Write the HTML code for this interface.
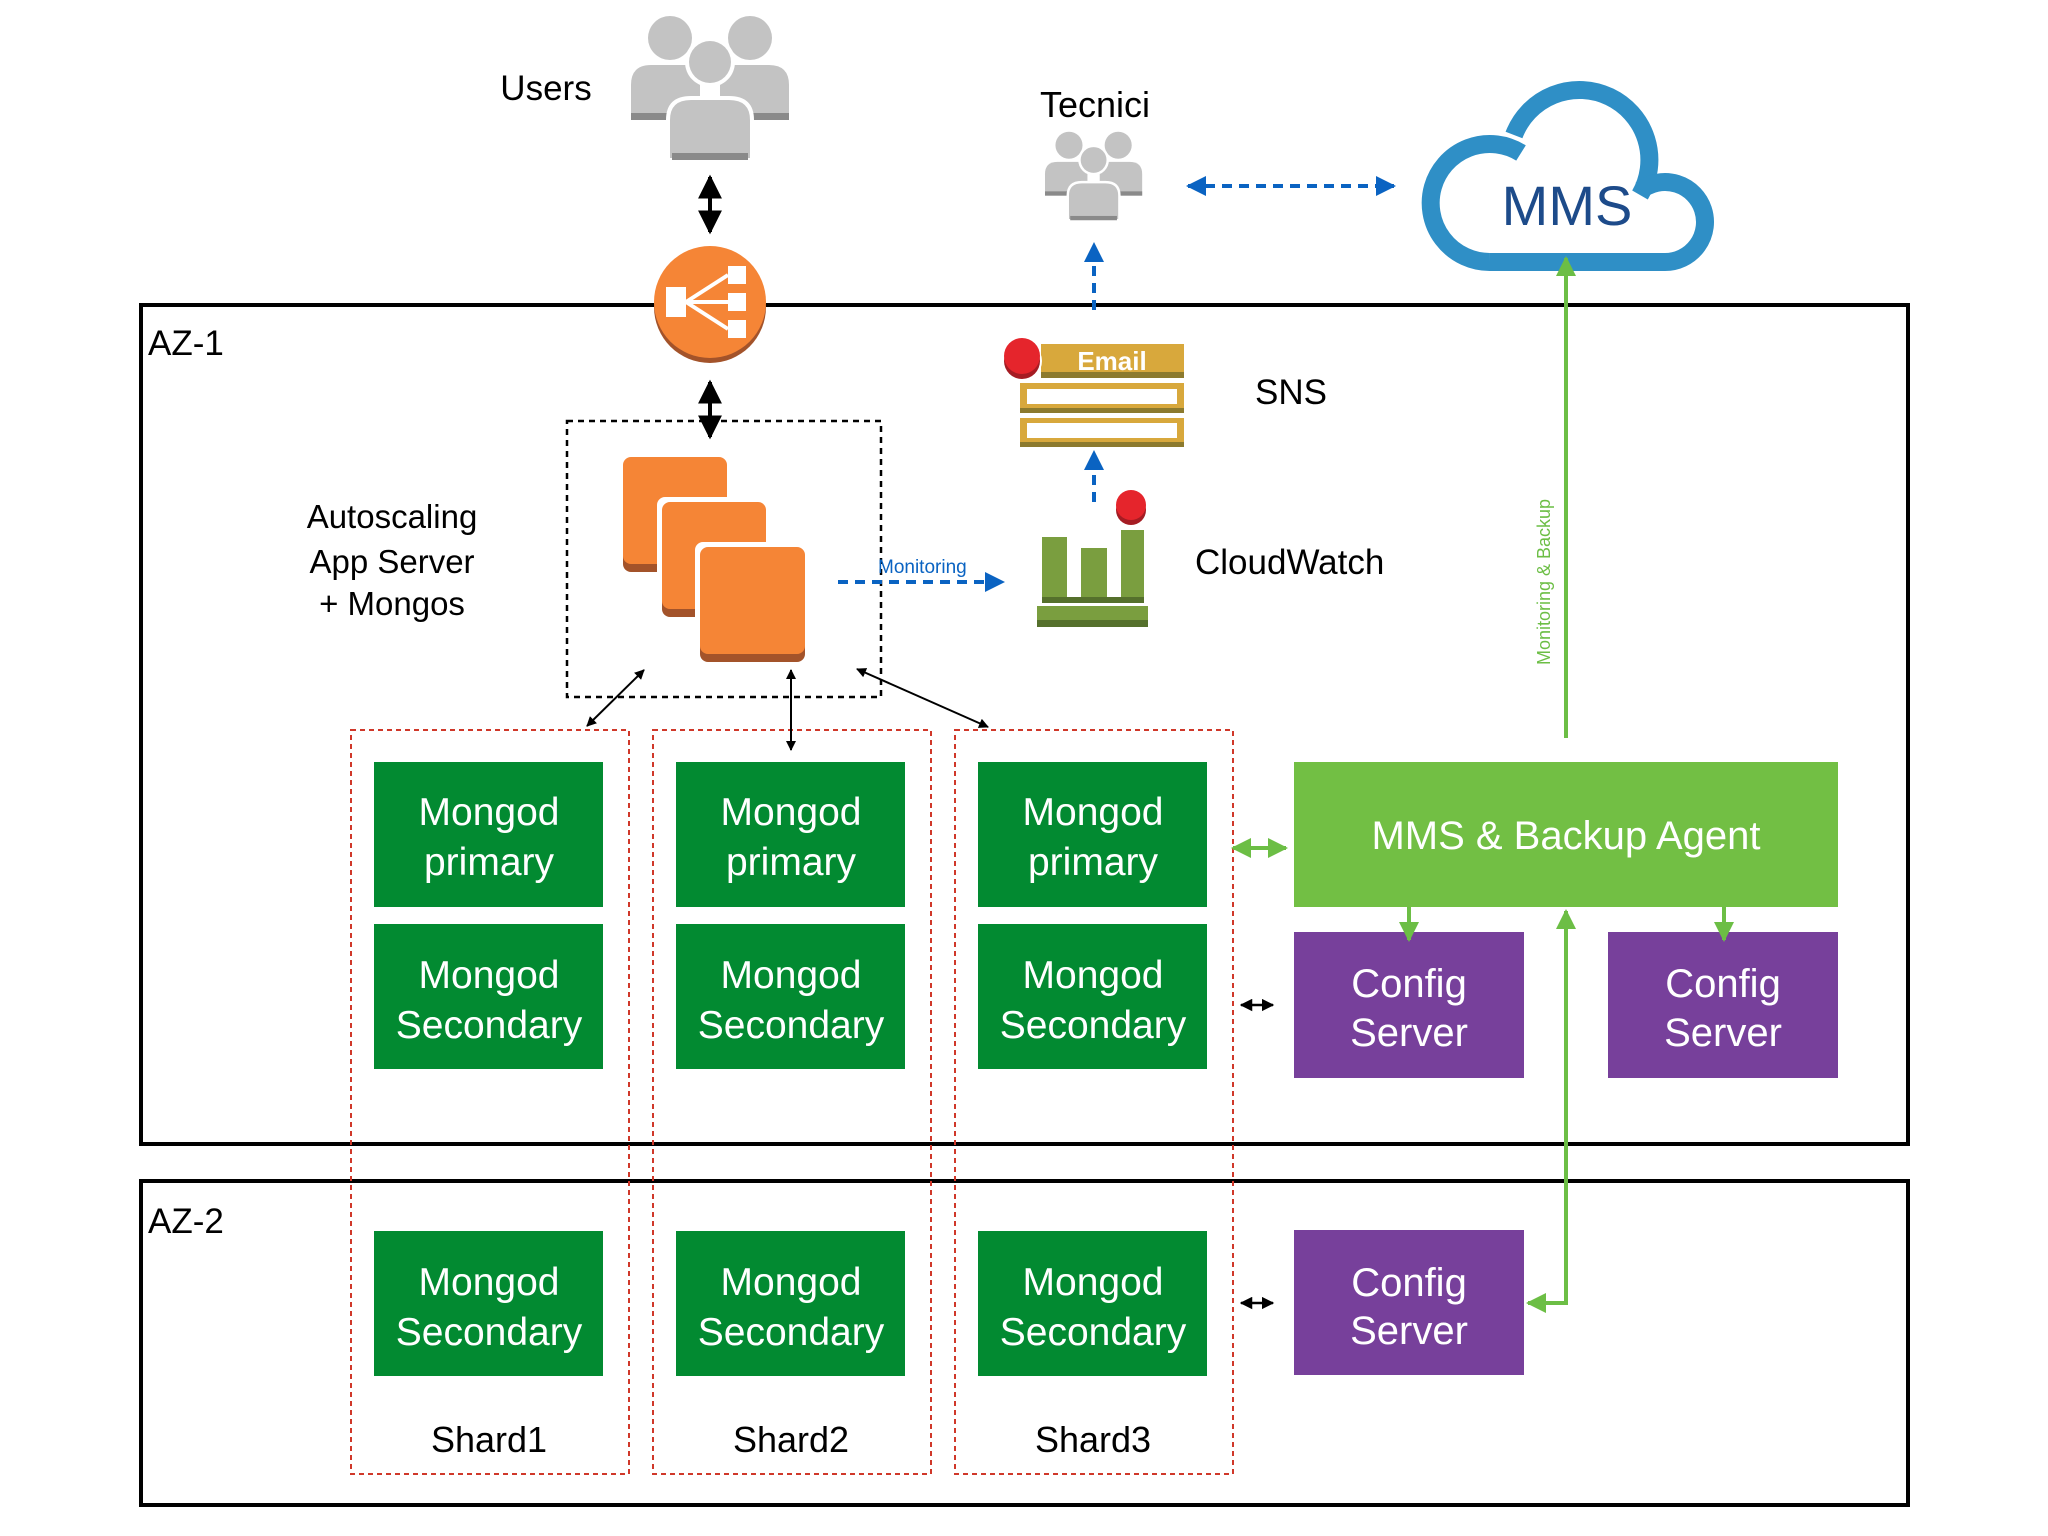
<!DOCTYPE html>
<html><head><meta charset="utf-8"><style>
html,body{margin:0;padding:0;background:#fff;}
svg{display:block;font-family:"Liberation Sans",sans-serif;}
</style></head><body>
<svg width="2048" height="1536" viewBox="0 0 2048 1536" xmlns="http://www.w3.org/2000/svg">
<defs>
<marker id="ab" viewBox="0 0 10 10" refX="9" refY="5" markerWidth="6" markerHeight="6" orient="auto-start-reverse"><path d="M0,0 L10,5 L0,10 z" fill="#000"/></marker>
<marker id="abs" viewBox="0 0 10 10" refX="9" refY="5" markerWidth="5" markerHeight="5" orient="auto-start-reverse"><path d="M0,0 L10,5 L0,10 z" fill="#000"/></marker>
<marker id="abl" viewBox="0 0 10 10" refX="9" refY="5" markerWidth="5" markerHeight="5" orient="auto-start-reverse"><path d="M0,0 L10,5 L0,10 z" fill="#0a63c2"/></marker>
<marker id="ag" viewBox="0 0 10 10" refX="9" refY="5" markerWidth="5" markerHeight="5" orient="auto-start-reverse"><path d="M0,0 L10,5 L0,10 z" fill="#6cbe45"/></marker>
<g id="ppl">
 <circle cx="39" cy="28" r="22" fill="#c3c3c3"/><circle cx="119" cy="28" r="22" fill="#c3c3c3"/>
 <path d="M0,110 V75 Q0,55 20,55 H69 V110 Z" fill="#c3c3c3"/>
 <path d="M158,110 V75 Q158,55 138,55 H89 V110 Z" fill="#c3c3c3"/>
 <rect x="0" y="103" width="158" height="7" fill="#8a8a8a"/>
 <circle cx="79" cy="52" r="25" fill="#fff"/><circle cx="79" cy="52" r="21" fill="#c3c3c3"/>
 <path d="M37,150 V110 Q37,88 60,88 H98 Q121,88 121,110 V150 Z" fill="#c3c3c3" stroke="#fff" stroke-width="4"/>
 <rect x="41" y="143" width="76" height="7" fill="#8a8a8a"/>
</g>
</defs>

<rect x="141" y="305" width="1767" height="839" fill="none" stroke="#000" stroke-width="4"/>
<rect x="141" y="1181" width="1767" height="324" fill="none" stroke="#000" stroke-width="4"/>
<text x="148" y="355" font-size="35">AZ-1</text>
<text x="148" y="1233" font-size="35">AZ-2</text>

<use href="#ppl" x="631" y="10"/>
<text x="546" y="100" font-size="35" text-anchor="middle">Users</text>
<use href="#ppl" transform="translate(1045,128) scale(0.615)"/>
<text x="1095" y="117" font-size="36" text-anchor="middle">Tecnici</text>

<line x1="710" y1="177" x2="710" y2="232" stroke="#000" stroke-width="4" marker-start="url(#ab)" marker-end="url(#ab)"/>
<line x1="710" y1="382" x2="710" y2="437" stroke="#000" stroke-width="4" marker-start="url(#ab)" marker-end="url(#ab)"/>

<circle cx="710" cy="307" r="56" fill="#a3532a"/>
<circle cx="710" cy="302" r="56" fill="#f58536"/>
<g fill="#fff" stroke="#fff">
<rect x="666" y="287" width="20" height="30" stroke="none"/>
<rect x="728" y="266" width="18" height="18" stroke="none"/>
<rect x="728" y="293" width="18" height="18" stroke="none"/>
<rect x="728" y="320" width="18" height="18" stroke="none"/>
<line x1="686" y1="302" x2="728" y2="275" stroke-width="4"/>
<line x1="686" y1="302" x2="728" y2="302" stroke-width="4"/>
<line x1="686" y1="302" x2="728" y2="329" stroke-width="4"/>
</g>

<rect x="567" y="421" width="314" height="276" fill="none" stroke="#000" stroke-width="2.5" stroke-dasharray="6,5"/>
<text x="392" y="528" font-size="33" text-anchor="middle">Autoscaling</text>
<text x="392" y="573" font-size="33" text-anchor="middle">App Server</text>
<text x="392" y="615" font-size="33" text-anchor="middle">+ Mongos</text>
<g>
<rect x="623" y="465" width="104" height="107" rx="8" fill="#a3532a"/>
<rect x="623" y="457" width="104" height="107" rx="8" fill="#f58536"/>
<rect x="657" y="497" width="114" height="125" rx="8" fill="#fff"/>
<rect x="662" y="510" width="104" height="107" rx="8" fill="#a3532a"/>
<rect x="662" y="502" width="104" height="107" rx="8" fill="#f58536"/>
<rect x="695" y="542" width="115" height="125" rx="8" fill="#fff"/>
<rect x="700" y="555" width="105" height="107" rx="8" fill="#a3532a"/>
<rect x="700" y="547" width="105" height="107" rx="8" fill="#f58536"/>
</g>
<line x1="838" y1="582" x2="1003" y2="582" stroke="#0a63c2" stroke-width="4" stroke-dasharray="10,7" marker-end="url(#abl)"/>
<text x="878" y="573" font-size="19" fill="#0a63c2">Monitoring</text>

<rect x="1042" y="537" width="25" height="66" fill="#7a9e3f"/>
<rect x="1081" y="548" width="26" height="55" fill="#7a9e3f"/>
<rect x="1121" y="530" width="23" height="73" fill="#7a9e3f"/>
<rect x="1042" y="597" width="102" height="6" fill="#55702c"/>
<rect x="1037" y="606" width="111" height="21" fill="#7a9e3f"/>
<rect x="1037" y="620" width="111" height="7" fill="#55702c"/>
<circle cx="1131" cy="510" r="15" fill="#a51c23"/>
<circle cx="1131" cy="505" r="15" fill="#e5252c"/>
<text x="1195" y="574" font-size="35">CloudWatch</text>
<line x1="1094" y1="502" x2="1094" y2="452" stroke="#0a63c2" stroke-width="4" stroke-dasharray="10,7" marker-end="url(#abl)"/>

<rect x="1041" y="344" width="143" height="34" fill="#d8a83c"/>
<rect x="1041" y="372" width="143" height="6" fill="#8c7a2e"/>
<rect x="1020" y="383" width="164" height="30" fill="#d8a83c"/>
<rect x="1027" y="389" width="150" height="15" fill="#fff"/>
<rect x="1020" y="408" width="164" height="5" fill="#8c7a2e"/>
<rect x="1020" y="418" width="164" height="29" fill="#d8a83c"/>
<rect x="1027" y="423" width="150" height="15" fill="#fff"/>
<rect x="1020" y="442" width="164" height="5" fill="#8c7a2e"/>
<circle cx="1022" cy="361" r="20" fill="#fff"/>
<circle cx="1022" cy="361" r="18" fill="#a51c23"/>
<circle cx="1022" cy="356" r="18" fill="#e5252c"/>
<text x="1112" y="370" font-size="26" font-weight="bold" fill="#fff" text-anchor="middle">Email</text>
<text x="1255" y="404" font-size="35">SNS</text>
<line x1="1094" y1="310" x2="1094" y2="244" stroke="#0a63c2" stroke-width="4" stroke-dasharray="10,7" marker-end="url(#abl)"/>

<line x1="1188" y1="186" x2="1394" y2="186" stroke="#0a63c2" stroke-width="4" stroke-dasharray="10,7" marker-start="url(#abl)" marker-end="url(#abl)"/>

<g fill="none" stroke="#2f8fc6" stroke-width="18" stroke-linecap="butt">
<path d="M1490,262 A59,59 0 1 1 1521,153"/>
<path d="M1514,135 A70,70 0 1 1 1640,195"/>
<path d="M1641,190 A40,40 0 1 1 1665,262 L1490,262"/>
</g>
<text x="1567" y="225" font-size="56" fill="#1d4b8a" text-anchor="middle">MMS</text>

<line x1="1566" y1="738" x2="1566" y2="258" stroke="#6cbe45" stroke-width="4" marker-end="url(#ag)"/>
<text transform="translate(1550,582) rotate(-90)" font-size="18" fill="#6cbe45" text-anchor="middle">Monitoring &amp; Backup</text>

<g fill="none" stroke="#d0382a" stroke-width="2" stroke-dasharray="5,4">
<rect x="351" y="730" width="278" height="744"/>
<rect x="653" y="730" width="278" height="744"/>
<rect x="955" y="730" width="278" height="744"/>
</g>
<text x="489" y="1452" font-size="36" text-anchor="middle">Shard1</text>
<text x="791" y="1452" font-size="36" text-anchor="middle">Shard2</text>
<text x="1093" y="1452" font-size="36" text-anchor="middle">Shard3</text>

<line x1="644" y1="670" x2="587" y2="726" stroke="#000" stroke-width="2" marker-start="url(#abs)" marker-end="url(#abs)"/>
<line x1="791" y1="670" x2="791" y2="750" stroke="#000" stroke-width="2" marker-start="url(#abs)" marker-end="url(#abs)"/>
<line x1="857" y1="669" x2="988" y2="727" stroke="#000" stroke-width="2" marker-start="url(#abs)" marker-end="url(#abs)"/>

<g fill="#028a31">
<rect x="374" y="762" width="229" height="145"/><rect x="676" y="762" width="229" height="145"/><rect x="978" y="762" width="229" height="145"/>
<rect x="374" y="924" width="229" height="145"/><rect x="676" y="924" width="229" height="145"/><rect x="978" y="924" width="229" height="145"/>
<rect x="374" y="1231" width="229" height="145"/><rect x="676" y="1231" width="229" height="145"/><rect x="978" y="1231" width="229" height="145"/>
</g>
<g fill="#fff" font-size="39" text-anchor="middle">
<text x="489" y="825">Mongod</text><text x="489" y="875">primary</text>
<text x="791" y="825">Mongod</text><text x="791" y="875">primary</text>
<text x="1093" y="825">Mongod</text><text x="1093" y="875">primary</text>
<text x="489" y="988">Mongod</text><text x="489" y="1038">Secondary</text>
<text x="791" y="988">Mongod</text><text x="791" y="1038">Secondary</text>
<text x="1093" y="988">Mongod</text><text x="1093" y="1038">Secondary</text>
<text x="489" y="1295">Mongod</text><text x="489" y="1345">Secondary</text>
<text x="791" y="1295">Mongod</text><text x="791" y="1345">Secondary</text>
<text x="1093" y="1295">Mongod</text><text x="1093" y="1345">Secondary</text>
</g>

<rect x="1294" y="762" width="544" height="145" fill="#72bf44"/>
<text x="1566" y="849" font-size="40" fill="#fff" text-anchor="middle">MMS &amp; Backup Agent</text>
<line x1="1233" y1="848" x2="1286" y2="848" stroke="#6cbe45" stroke-width="4" marker-start="url(#ag)" marker-end="url(#ag)"/>
<line x1="1241" y1="1005" x2="1273" y2="1005" stroke="#000" stroke-width="2.5" marker-start="url(#abs)" marker-end="url(#abs)"/>
<line x1="1241" y1="1303" x2="1273" y2="1303" stroke="#000" stroke-width="2.5" marker-start="url(#abs)" marker-end="url(#abs)"/>

<g fill="#77409b">
<rect x="1294" y="932" width="230" height="146"/>
<rect x="1608" y="932" width="230" height="146"/>
<rect x="1294" y="1230" width="230" height="145"/>
</g>
<g fill="#fff" font-size="40" text-anchor="middle">
<text x="1409" y="997">Config</text><text x="1409" y="1046">Server</text>
<text x="1723" y="997">Config</text><text x="1723" y="1046">Server</text>
<text x="1409" y="1296">Config</text><text x="1409" y="1344">Server</text>
</g>
<line x1="1409" y1="907" x2="1409" y2="940" stroke="#6cbe45" stroke-width="4" marker-end="url(#ag)"/>
<line x1="1724" y1="907" x2="1724" y2="940" stroke="#6cbe45" stroke-width="4" marker-end="url(#ag)"/>
<polyline points="1528,1303 1566,1303 1566,911" fill="none" stroke="#6cbe45" stroke-width="4" marker-start="url(#ag)" marker-end="url(#ag)"/>
</svg>
</body></html>
